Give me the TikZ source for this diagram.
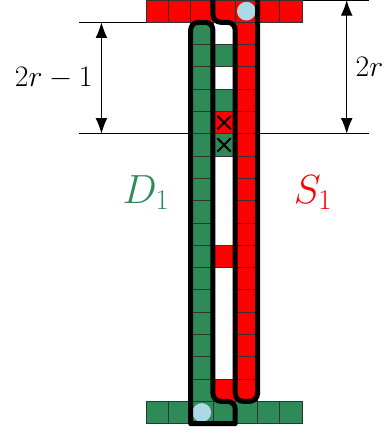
\RequirePackage{fix-cm}
\documentclass[tikz,border=0pt]{standalone}
\usepackage{xcolor}
\usepackage{tikz}
\usepackage{amsmath}
\usetikzlibrary{arrows.meta, positioning, calc}
\definecolor{dgreen}{HTML}{2E8B57}
\definecolor{sred}{HTML}{FF0000}
\definecolor{pinblue}{HTML}{ADD8E6}

\begin{document}
\begin{tikzpicture}[x=0.5cm, y=0.5cm,
    cell/.style={draw=black!80, line width=0.5pt},
    region/.style={draw=black, line width=3.2pt, line join=round},
    pin/.style={circle, fill=pinblue, inner sep=0pt, minimum size=0.42cm},
    dimline/.style={line width=0.7pt},
    dimarrow/.style={line width=0.7pt, {Latex[length=10pt,width=7.5pt]}-{Latex[length=10pt,width=7.5pt]}}]
    \useasboundingbox (-6.55,-0.42) rectangle (10.67,19);

    % Dimension lines
    \coordinate (lA) at (-3,18);
    \coordinate (lB) at (0,18);
    \coordinate (rA) at (7,19);
    \coordinate (rB) at (10,19);
    \coordinate (bA) at (-3,13);
    \coordinate (bB) at (10,13);
    \draw[dimline] (lA) -- (lB);
    \draw[dimline] (rA) -- (rB);
    \draw[dimline] (bA) -- (bB);
    \coordinate (la1) at (-2,18);
    \coordinate (la2) at (-2,13);
    \coordinate (ra1) at (9,19);
    \coordinate (ra2) at (9,13);
    \draw[dimarrow] (la1) -- node[left=2pt, font=\fontsize{19}{23}\selectfont] (lenD) {$2r-1$} (la2);
    \draw[dimarrow] (ra1) -- node[right=2pt, font=\fontsize{19}{23}\selectfont] (lenS) {$2r$} (ra2);

    % Rows and columns of cells
    \foreach \u in {0,...,6} {
        \draw[cell, fill=sred] (\u,18) rectangle ++(1,1);
        \draw[cell, fill=dgreen] (\u,0) rectangle ++(1,1);
    }
    \foreach \v in {1,...,17} {
        \draw[cell, fill=dgreen] (2,\v) rectangle ++(1,1);
        \draw[cell, fill=sred] (4,\v) rectangle ++(1,1);
    }
    \foreach \v/\c in {16/dgreen, 14/dgreen, 13/sred, 12/dgreen, 7/sred, 1/sred}
        \draw[cell, fill=\c] (3,\v) rectangle ++(1,1);

    % Crossed cells
    \foreach \v in {13,12}
        \draw[line width=1.3pt] (3.2,\v+0.2) -- (3.8,\v+0.8) (3.2,\v+0.8) -- (3.8,\v+0.2);

    \node[pin] (pinS) at (4.5,18.5) {};
    \node[pin] (pinD) at (2.5,0.5) {};

    % Outlines of D_1 and S_1
    \draw[region] (2,0) -- (4,0) {[rounded corners=5pt] -- (4,1) -- (3,1) -- (3,18) -- (2,18)} -- cycle;
    \draw[region] (5,19.4) -- (3,19.4) {[rounded corners=5pt] -- (3,18) -- (4,18) -- (4,1) -- (5,1)} -- cycle;

    \node[text=dgreen, font=\fontsize{26}{30}\selectfont] (labD) at (0,10.35) {$D_1$};
    \node[text=sred, font=\fontsize{26}{30}\selectfont] (labS) at (7.49,10.35) {$S_1$};
\end{tikzpicture}
\end{document}
